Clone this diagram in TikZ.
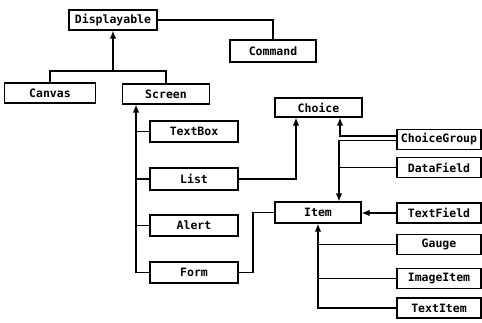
\documentclass[tikz,border=0pt]{standalone}
\usepackage{fontspec}
\newfontfamily\boxfont{DejaVu Sans Mono}
\usepackage{tikz}
\usetikzlibrary{positioning, calc, arrows.meta}
\tikzset{>={Latex[length=8pt,width=6.5pt]}}
\tikzset{cls/.style={draw, line width=1.2pt, minimum width=88pt, minimum height=20pt,
    inner sep=0pt, font=\boxfont\bfseries\fontsize{11.5pt}{13pt}\selectfont},
  link/.style={line width=1.3pt}}

\begin{document}
\begin{tikzpicture}[x=1pt, y=-1pt]
  \useasboundingbox (0,0) rectangle (482,322);
  % top of the tree
  \node[cls] (disp) at (113,20) {Displayable};
  \node[cls, minimum width=86pt, minimum height=22pt] (cmd) at (273,51) {Command};
  \node[cls, minimum width=91pt] (canvas) at (50,93) {Canvas};
  \node[cls, minimum width=87pt] (screen) at (166,94) {Screen};
  % screens
  \node[cls, minimum height=21pt] (textbox) at (194,131.5) {TextBox};
  \node[cls, minimum height=22pt] (list) at (194,179) {List};
  \node[cls, minimum height=21pt] (alert) at (194,225.5) {Alert};
  \node[cls, minimum height=21pt] (form) at (194,272.5) {Form};
  % choice and items
  \node[cls, minimum width=87pt, minimum height=19pt] (choice) at (318.5,107.5) {Choice};
  \node[cls, minimum width=86pt, minimum height=21pt] (item) at (318,212.5) {Item};
  \foreach \name/\txt/\y in {cgroup/ChoiceGroup/139.5, dfield/DataField/167.5,
      tfield/TextField/213, gauge/Gauge/244.5, imgitem/ImageItem/278.5, txtitem/TextItem/308}
    \node[cls, minimum width=84pt, minimum height=20pt] (\name) at (439,\y) {\txt};

  \coordinate (dj) at (113,71);
  \coordinate (sx) at (136,0);
  \coordinate (fx) at (253,0);
  \coordinate (lx) at (296,0);
  \coordinate (cx) at (340,0);
  \coordinate (ix) at (339,0);

  \draw[link] (canvas.north) |- (dj) -| (screen.north);
  \draw[link,->] (dj) -- (disp.south);
  \draw[link] (disp.east) -| (cmd.north);

  \draw[link,->] (form.west) -| (sx |- screen.south);
  \foreach \n in {textbox,list,alert}
    \draw[link] (\n.west) -- (\n.west -| sx);

  \draw[link,->] (list.east) -| (lx |- choice.south);
  \draw[link,->] ([yshift=3.5pt]cgroup.west) -| (cx |- choice.south);
  \draw[link,->] ([yshift=-1pt]cgroup.west) -| (ix |- item.north);
  \draw[link] (dfield.west) -- (dfield.west -| ix);

  \draw[link] (form.east) -| (fx |- item.west) -- (item.west);
  \draw[link,->] (tfield.west) -- (tfield.west -| item.east);
  \draw[link,->] (txtitem.west) -| (item.south);
  \foreach \n in {gauge,imgitem}
    \draw[link] (\n.west) -- (\n.west -| item.south);
\end{tikzpicture}
\end{document}
